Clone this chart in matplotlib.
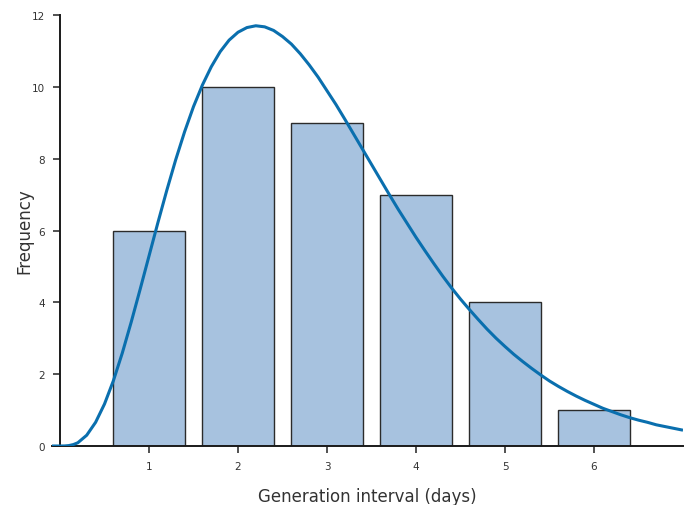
import matplotlib
matplotlib.use("Agg")
import matplotlib.pyplot as plt

# Data
days = [1, 2, 3, 4, 5, 6]
counts = [6, 10, 9, 7, 4, 1]

curve_x = [-0.09, 0.0, 0.05, 0.1, 0.15, 0.2, 0.3, 0.4, 0.5, 0.6, 0.7, 0.8, 0.9,
           1.0, 1.1, 1.2, 1.3, 1.4, 1.5, 1.6, 1.7, 1.8, 1.9,
           2.0, 2.1, 2.2, 2.3, 2.4, 2.5, 2.6, 2.7, 2.8, 2.9,
           3.0, 3.1, 3.2, 3.3, 3.4, 3.5, 3.6, 3.7, 3.8, 3.9,
           4.0, 4.1, 4.2, 4.3, 4.4, 4.5, 4.6, 4.7, 4.8, 4.9,
           5.0, 5.1, 5.2, 5.3, 5.4, 5.5, 5.6, 5.7, 5.8, 5.9,
           6.0, 6.1, 6.2, 6.3, 6.4, 6.5, 6.6, 6.7, 6.8, 6.9, 7.0]
curve_y = [0.0, 0.0, 0.001, 0.012, 0.04, 0.09, 0.30, 0.66, 1.17, 1.82, 2.59, 3.45, 4.36,
           5.29, 6.22, 7.12, 7.97, 8.75, 9.45, 10.05, 10.56, 10.98, 11.30,
           11.52, 11.65, 11.70, 11.67, 11.57, 11.40, 11.19, 10.92, 10.61, 10.27,
           9.89, 9.51, 9.10, 8.68, 8.26, 7.84, 7.42, 7.00, 6.59, 6.20,
           5.81, 5.44, 5.08, 4.73, 4.40, 4.09, 3.80, 3.52, 3.25, 3.00,
           2.77, 2.55, 2.35, 2.16, 1.98, 1.81, 1.66, 1.52, 1.39, 1.27,
           1.16, 1.05, 0.96, 0.87, 0.79, 0.72, 0.66, 0.59, 0.54, 0.49, 0.44]

yticks = [0, 2, 4, 6, 8, 10, 12]

fig = plt.figure(figsize=(6.9, 5.06), dpi=100)
ax = fig.add_axes([52/690, 1 - 447/506, (683 - 52)/690, (447 - 16)/506])

ax.bar(days, counts, width=0.8, color="#a7c2df", edgecolor="#2b2b2b", linewidth=1.0, zorder=2)
ax.plot(curve_x, curve_y, color="#0a6fae", linewidth=2.2, zorder=3,
        solid_capstyle="butt", solid_joinstyle="round")

ax.set_xlim(-0.09, 7.0)
ax.set_ylim(0, 12)
ax.set_xticks(days)
ax.set_yticks(yticks)

for s in ["top", "right"]:
    ax.spines[s].set_visible(False)
ax.spines["left"].set_position(("data", 0))
for s in ["left", "bottom"]:
    ax.spines[s].set_color("#1a1a1a")
    ax.spines[s].set_linewidth(1.4)

ax.tick_params(axis="both", direction="out", length=5, width=1.2, color="#333333",
               labelsize=7.5, labelcolor="#333333", pad=6)

ax.set_xlabel("Generation interval (days)", fontsize=12, color="#333333", labelpad=11)
ax.set_ylabel("Frequency", fontsize=12, color="#333333")
ax.yaxis.set_label_coords((33 - 52) / 631, 0.5)

fig.savefig("out.png", dpi=100)
